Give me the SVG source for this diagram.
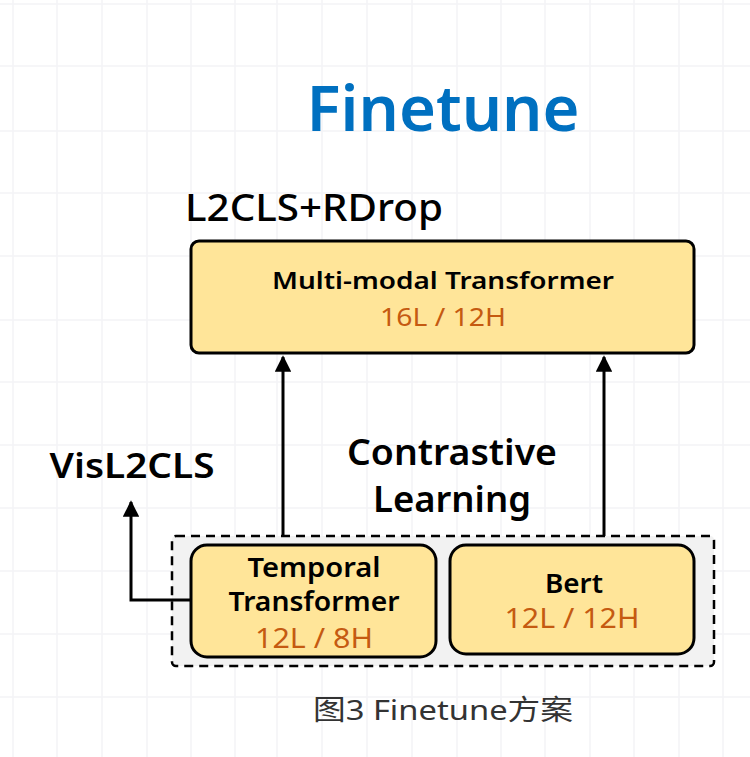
<svg xmlns="http://www.w3.org/2000/svg" width="750" height="757" viewBox="0 0 750 757">
<defs>
<style>
.grid{stroke:#f3f4f6;stroke-width:1.5;fill:none}
.box{fill:#FFE599;stroke:#000;stroke-width:3}
.t{font-family:"Noto Sans","Noto Sans CJK SC",sans-serif;fill:#000;text-anchor:middle}
.b{font-weight:600}
.o{fill:#C55A11}
.conn{stroke:#000;stroke-width:3;fill:none}
</style>
<marker id="ah" viewBox="0 0 10 10" refX="9" refY="5" markerWidth="5.5" markerHeight="5.5" markerUnits="strokeWidth" orient="auto">
<path d="M0,0 L10,5 L0,10 z" fill="#000"/>
</marker>
</defs>
<rect width="750" height="757" fill="#fff"/>
<g id="grid" class="grid">
<path d="M13,0V757M57,0V757M102,0V757M147,0V757M191,0V757M235,0V757M277,0V757M322,0V757M367,0V757M412,0V757M457,0V757M501,0V757M545,0V757M590,0V757M634,0V757M679,0V757M723,0V757"/>
<path d="M0,4H750M0,66H750M0,131H750M0,193H750M0,256H750M0,320H750M0,382H750M0,445H750M0,508H750M0,571H750M0,634H750M0,697H750"/>
</g>
<text class="t b" x="443" y="131" font-size="64" style="fill:#0070C0" textLength="273" lengthAdjust="spacingAndGlyphs">Finetune</text>
<text class="t" x="314" y="221" font-size="38" font-weight="500" textLength="258" lengthAdjust="spacingAndGlyphs">L2CLS+RDrop</text>
<g id="container">
<rect x="172" y="536" width="542" height="130" rx="4" fill="#f2f2f2" stroke="#000" stroke-width="2.5" stroke-dasharray="9,6"/>
</g>
<g id="connectors">
<path class="conn" d="M283,536V357" marker-end="url(#ah)"/>
<path class="conn" d="M604,536V357" marker-end="url(#ah)"/>
<path class="conn" d="M191,600H131V502" marker-end="url(#ah)"/>
</g>
<g id="mmt">
<rect class="box" x="191" y="241" width="503" height="112" rx="8"/>
<text class="t b" x="443" y="289" font-size="24" textLength="342" lengthAdjust="spacingAndGlyphs">Multi-modal Transformer</text>
<text class="t o" x="443" y="326" font-size="25" textLength="126" lengthAdjust="spacingAndGlyphs">16L / 12H</text>
</g>
<g id="temporal">
<rect class="box" x="191" y="545" width="245" height="112" rx="16"/>
<text class="t b" x="314" y="577" font-size="27" textLength="133" lengthAdjust="spacingAndGlyphs">Temporal</text>
<text class="t b" x="314" y="611" font-size="27" textLength="171" lengthAdjust="spacingAndGlyphs">Transformer</text>
<text class="t o" x="314" y="648" font-size="27" textLength="118" lengthAdjust="spacingAndGlyphs">12L / 8H</text>
</g>
<g id="bert">
<rect class="box" x="450" y="545" width="244" height="109" rx="16"/>
<text class="t b" x="574" y="593" font-size="27" textLength="58" lengthAdjust="spacingAndGlyphs">Bert</text>
<text class="t o" x="572" y="628" font-size="27" textLength="135" lengthAdjust="spacingAndGlyphs">12L / 12H</text>
</g>
<g id="visl2cls">
<text class="t b" x="132" y="478" font-size="35" textLength="165" lengthAdjust="spacingAndGlyphs">VisL2CLS</text>
</g>
<g id="contrastive">
<text class="t b" x="452" y="465" font-size="36" textLength="210" lengthAdjust="spacingAndGlyphs">Contrastive</text>
<text class="t b" x="452" y="512" font-size="36" textLength="158" lengthAdjust="spacingAndGlyphs">Learning</text>
</g>
<text class="t" x="443" y="720" font-size="28" style="fill:#333" textLength="260" lengthAdjust="spacingAndGlyphs">图3 Finetune方案</text>
</svg>
